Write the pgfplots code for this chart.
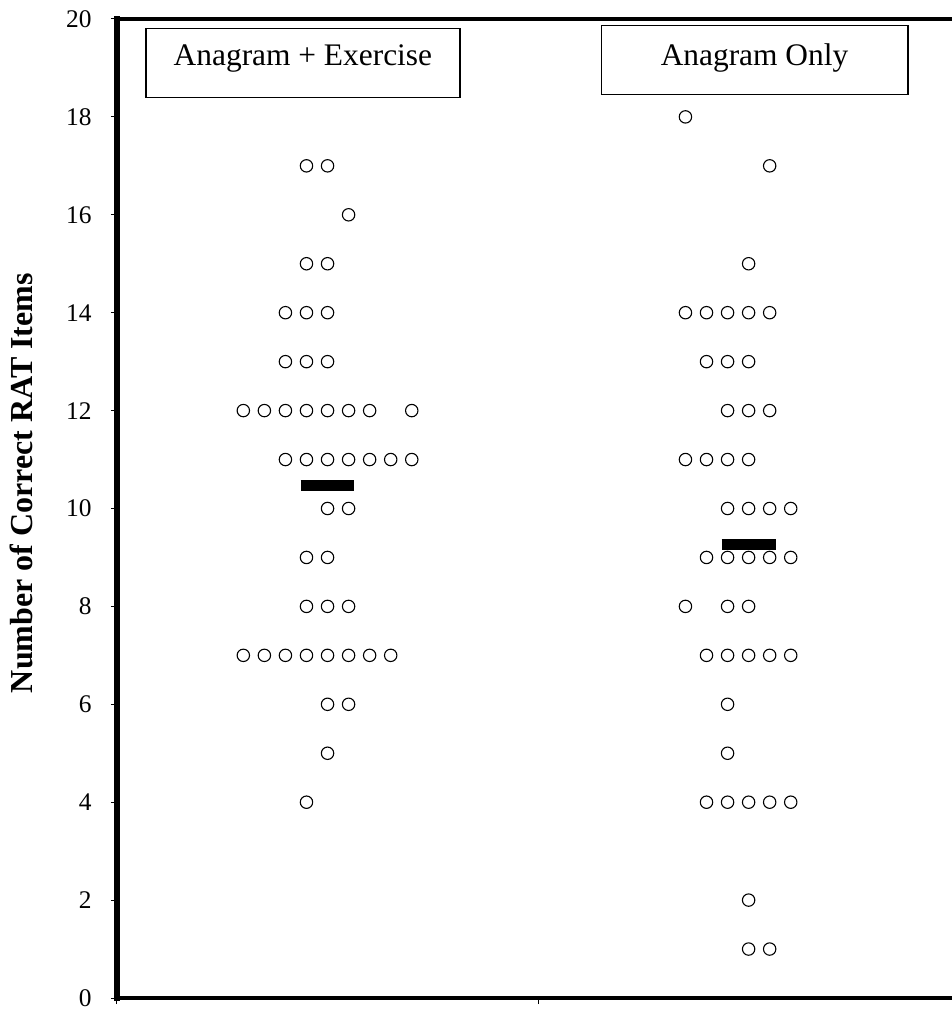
\documentclass[border=0pt]{standalone}
\usepackage{fontspec}
\setmainfont{Liberation Serif}
\usepackage{pgfplots}
\pgfplotsset{compat=1.18}
\begin{document}
\begin{tikzpicture}
\begin{axis}[
  scale only axis,
  width=417.5pt, height=489.5pt,
  xmin=0, xmax=1.983,
  ymin=0, ymax=20,
  axis x line*=box, axis y line*=left,
  x axis line style={line width=2.2pt, line cap=rect},
  y axis line style={line width=3pt, line cap=rect},
  xtick={0,1}, xticklabels={},
  ytick={0,2,...,20},
  tick align=outside, tick pos=left,
  major tick length=3pt,
  tick style={black, line width=0.5pt},
  /pgf/number format/assume math mode=true,
  yticklabel style={font=\fontsize{12.7}{15}\selectfont, inner sep=0pt, xshift=-9.5pt},
  ylabel={Number of Correct RAT Items},
  every axis y label/.style={at={(rel axis cs:-0.1006,0.526)}, rotate=90, anchor=base, inner sep=0pt, font=\fontsize{16}{19}\selectfont\bfseries},
  clip=false,
]
\coordinate (bl) at (rel axis cs:0,0);
\coordinate (tr) at (rel axis cs:1,1);
% mean bars
\addplot[black, line width=5.5pt, line cap=butt, forget plot] coordinates {(0.436,10.48) (0.564,10.48)};
\addplot[black, line width=5.5pt, line cap=butt, forget plot] coordinates {(1.436,9.26) (1.564,9.26)};
% Anagram + Exercise
\addplot[only marks, mark=o, mark size=3.1pt, mark options={line width=0.55pt, black}] coordinates {
(0.45,17) (0.50,17)
(0.55,16)
(0.45,15) (0.50,15)
(0.40,14) (0.45,14) (0.50,14)
(0.40,13) (0.45,13) (0.50,13)
(0.30,12) (0.35,12) (0.40,12) (0.45,12) (0.50,12) (0.55,12) (0.60,12) (0.70,12)
(0.40,11) (0.45,11) (0.50,11) (0.55,11) (0.60,11) (0.65,11) (0.70,11)
(0.50,10) (0.55,10)
(0.45,9) (0.50,9)
(0.45,8) (0.50,8) (0.55,8)
(0.30,7) (0.35,7) (0.40,7) (0.45,7) (0.50,7) (0.55,7) (0.60,7) (0.65,7)
(0.50,6) (0.55,6)
(0.50,5)
(0.45,4)
};
% Anagram Only
\addplot[only marks, mark=o, mark size=3.1pt, mark options={line width=0.55pt, black}] coordinates {
(1.35,18)
(1.55,17)
(1.50,15)
(1.35,14) (1.40,14) (1.45,14) (1.50,14) (1.55,14)
(1.40,13) (1.45,13) (1.50,13)
(1.45,12) (1.50,12) (1.55,12)
(1.35,11) (1.40,11) (1.45,11) (1.50,11)
(1.45,10) (1.50,10) (1.55,10) (1.60,10)
(1.40,9) (1.45,9) (1.50,9) (1.55,9) (1.60,9)
(1.35,8) (1.45,8) (1.50,8)
(1.40,7) (1.45,7) (1.50,7) (1.55,7) (1.60,7)
(1.45,6)
(1.45,5)
(1.40,4) (1.45,4) (1.50,4) (1.55,4) (1.60,4)
(1.50,2)
(1.50,1) (1.55,1)
};
\node[draw, line width=0.6pt, minimum width=157pt, minimum height=34.5pt, inner sep=0pt, text height=10.2pt, text depth=7.2pt, font=\fontsize{15.7}{18}\selectfont] at (axis cs:0.4415,19.105) {Anagram + Exercise};
\node[draw, line width=0.6pt, minimum width=153.4pt, minimum height=34.5pt, inner sep=0pt, text height=10.2pt, text depth=4.7pt, font=\fontsize{15.7}{18}\selectfont] at (axis cs:1.514,19.17) {Anagram Only};
\end{axis}
\pgfresetboundingbox
\useasboundingbox ([xshift=-58.5pt,yshift=-7pt]bl) rectangle ([yshift=9.5pt]tr);
\end{tikzpicture}
\end{document}
